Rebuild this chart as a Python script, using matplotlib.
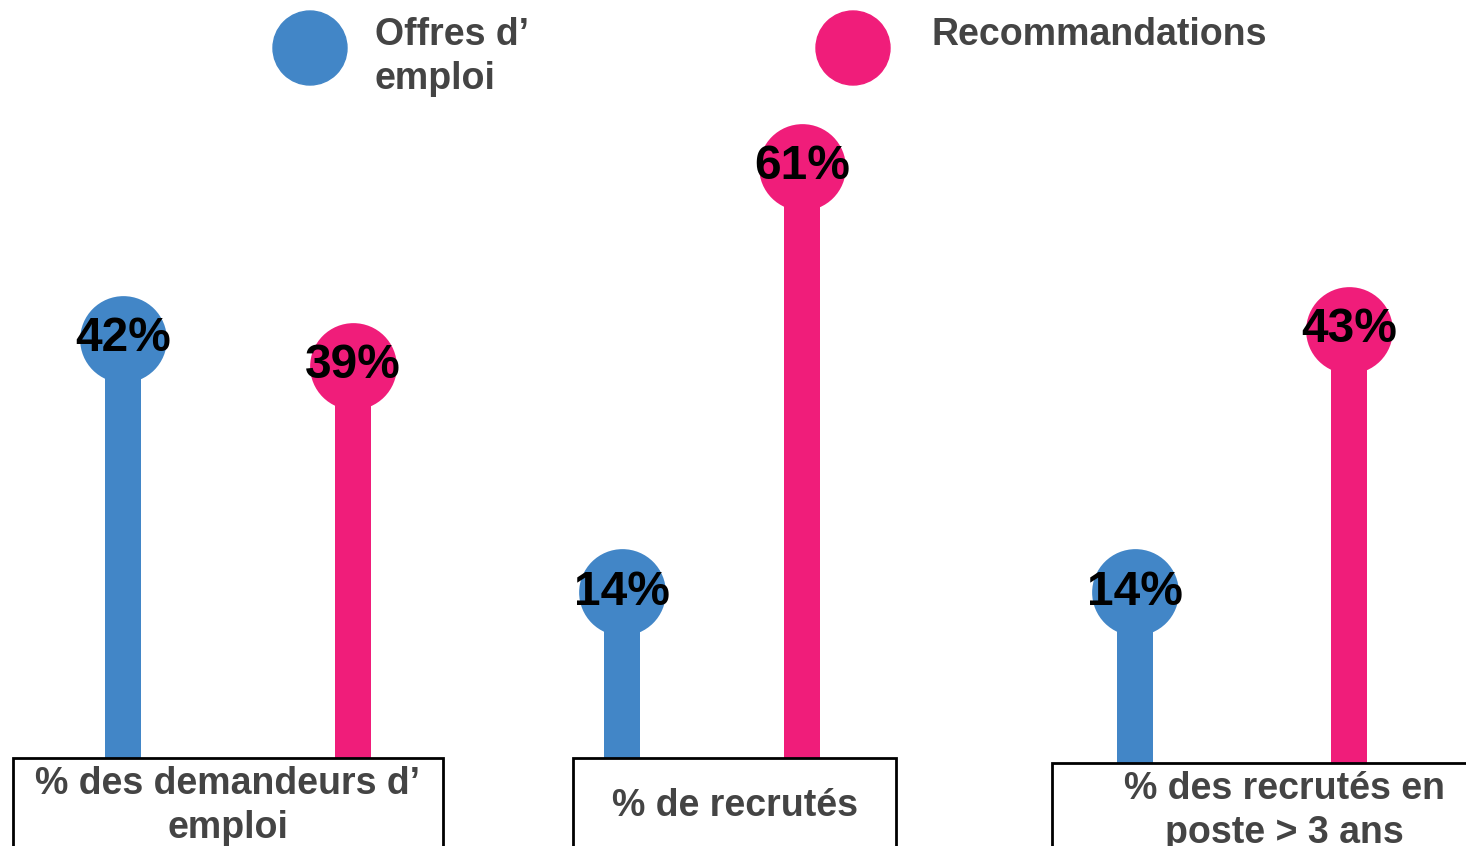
import matplotlib
matplotlib.use('Agg')

import matplotlib.pyplot as plt
from matplotlib.patches import Rectangle, Ellipse

plt.rcParams['font.family'] = ['Liberation Sans', 'DejaVu Sans']

# data
categories = ['% des demandeurs d’\nemploi', '% de recrutés', '% des recrutés en\nposte > 3 ans']
series = ['Offres d’\nemploi', 'Recommandations']
offres = [42, 14, 14]
recos = [39, 61, 43]

BLUE = '#4286c7'
PINK = '#f01d7a'
GREY = '#444444'

W, H = 1466, 846
fig = plt.figure(figsize=(W / 100, H / 100), dpi=100)
ax = fig.add_axes([0, 0, 1, 1])
ax.set_xlim(0, W)
ax.set_ylim(-14, 79.4)
ax.axis('off')

def fx(x):
    return x / W

def fy(y):
    return 1 - y / H

# layout in pixels across the figure
group_x = [238, 712, 1242]
half_gap = [115, 90, 107]
base = -14

for i in range(len(categories)):
    xb = group_x[i] - half_gap[i]
    xp = group_x[i] + half_gap[i]
    for x, v, c in [(xb, offres[i], BLUE), (xp, recos[i], PINK)]:
        ax.bar(x, v - base, bottom=base, width=36, color=c, zorder=2)
        ax.scatter([x], [v], s=3900, color=c, zorder=3, linewidths=0)
        ax.text(x, v, f'{v}%', ha='center', va='center', fontsize=34.5,
                fontweight='bold', color='black', zorder=4)

# category boxes (run off the bottom edge, like the original slide)
boxes = [(13, 443, 758), (573, 896, 758), (1052, 1480, 763)]
for (x0, x1, top), label in zip(boxes, categories):
    rect = Rectangle((fx(x0), fy(top + 200)), fx(x1 - x0), 200 / H,
                     transform=fig.transFigure, facecolor='white',
                     edgecolor='black', linewidth=2, zorder=5)
    fig.patches.append(rect)
    cx = (x0 + x1) / 2 if x1 < W else 1284
    fig.text(fx(cx), fy(top + 48), label, ha='center', va='center', fontsize=27,
             fontweight='bold', color=GREY, linespacing=1.32, zorder=6)

# legend
for (cx, tx, ty), name, c in zip([(310, 375, 57), (853, 932, 35)], series, [BLUE, PINK]):
    fig.patches.append(Ellipse((fx(cx), fy(48)), 74 / W, 74 / H,
                               transform=fig.transFigure, color=c, zorder=5))
    fig.text(fx(tx), fy(ty), name, ha='left', va='center', fontsize=27,
             fontweight='bold', color=GREY, linespacing=1.32)

fig.savefig('out.png', dpi=100)
